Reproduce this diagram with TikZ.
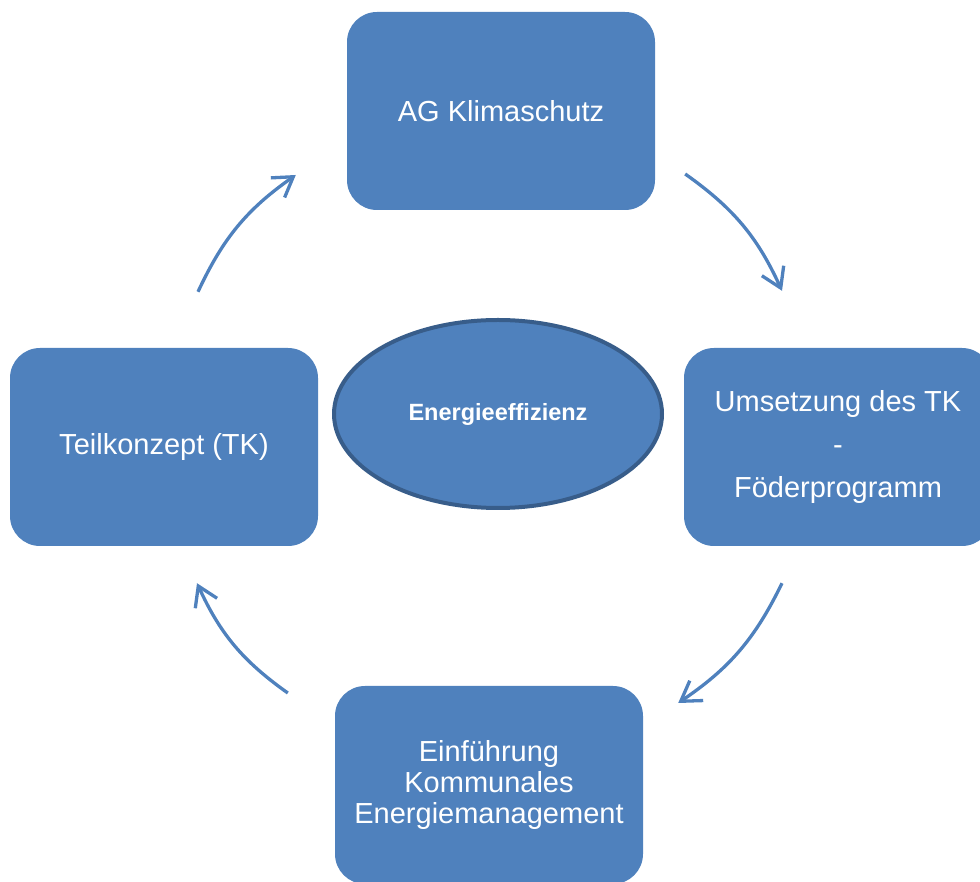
\documentclass[tikz,border=0pt]{standalone}
\usepackage{fontspec}
\setmainfont{Liberation Sans}
\usetikzlibrary{shapes.geometric,arrows.meta,calc}
\definecolor{boxblue}{HTML}{4F81BD}
\definecolor{rimblue}{HTML}{385D8A}
\begin{document}
\begin{tikzpicture}[x=1pt,y=1pt,
  stagebox/.style={fill=boxblue, draw=none, rounded corners=30pt,
    minimum width=308pt, minimum height=198pt, inner sep=0pt,
    text=white, align=center, font=\fontsize{29}{43}\selectfont},
  hub/.style={ellipse, fill=boxblue, draw=rimblue, line width=4pt,
    minimum width=328pt, minimum height=188pt, inner sep=0pt,
    text=white, font=\bfseries\fontsize{23.5}{28}\selectfont},
  cycle/.style={draw=boxblue, line width=3.3pt, bend left=15,
    -{Straight Barb[length=19pt,width=24pt]}}]
\useasboundingbox (0,0) rectangle (980,881);
\clip (0,0) rectangle (980,881);

% four stages of the cycle
\node[stagebox] (ag) at (501,770) {AG Klimaschutz};
\node[stagebox] (tk) at (164,434) {Teilkonzept (TK)};
\node[stagebox] (um) at (838,434) {Umsetzung des TK\\-\\Föderprogramm};
\node[stagebox, font=\fontsize{29}{31}\selectfont] (ek) at (489,96)
  {Einführung\\Kommunales\\Energiemanagement};

% central topic
\node[hub] (eff) at (498,467) {Energieeffizienz};

% arrow end points beside the boxes
\coordinate (a1s) at ($(tk.north)+(34,56)$);
\coordinate (a1e) at ($(ag.west)+(-51,-64)$);
\coordinate (a2s) at ($(ag.east)+(30,-63)$);
\coordinate (a2e) at ($(um.north)+(-56,57)$);
\coordinate (a3s) at ($(um.south)+(-56,-37)$);
\coordinate (a3e) at ($(ek.east)+(35,82)$);
\coordinate (a4s) at ($(ek.west)+(-47,92)$);
\coordinate (a4e) at ($(tk.south)+(33,-37)$);

% clockwise cycle arrows
\draw[cycle] (a1s) to (a1e);
\draw[cycle] (a2s) to (a2e);
\draw[cycle] (a3s) to (a3e);
\draw[cycle] (a4s) to (a4e);
\end{tikzpicture}
\end{document}
